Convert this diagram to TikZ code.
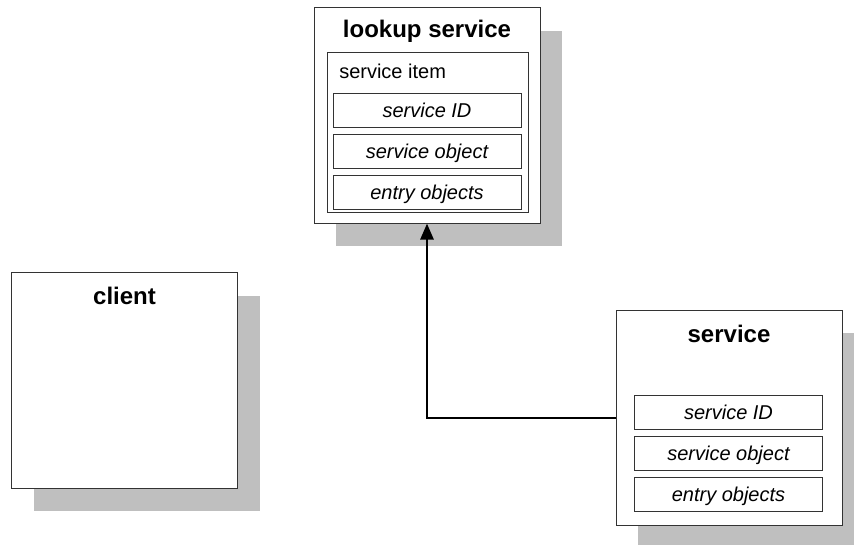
\documentclass[tikz,border=0pt]{standalone}
\usepackage{fontspec}
\setmainfont{Liberation Sans}
\usetikzlibrary{positioning, shadows, arrows.meta}

\begin{document}
\begin{tikzpicture}[
    x=0.75pt, y=-0.75pt,
    box/.style={draw=black!80, fill=white, line width=0.75pt,
        minimum width=169.5pt, minimum height=161.5pt,
        drop shadow={fill=black!25, opacity=1, shadow xshift=16.5pt, shadow yshift=-17.25pt}},
    item/.style={draw=black!80, line width=0.75pt, minimum width=150.75pt, minimum height=120pt},
    field/.style={draw=black!80, line width=0.75pt, inner sep=0pt,
        minimum width=141pt, minimum height=25.5pt, text height=12pt, text depth=2pt,
        font=\fontsize{15}{18}\selectfont\itshape},
    title/.style={anchor=base, font=\fontsize{18}{22}\selectfont\bfseries},
    >={Triangle[length=12pt, width=10pt]},
]
    \useasboundingbox (0,0) rectangle (854,545);

    % lookup service
    \node[box] (lookup) at (427,115.5) {};
    \node[title] (lookuptitle) at (427,38) {lookup service};
    \node[item] (item) at (427.5,133) {};
    \node[anchor=base west, inner sep=0pt, font=\fontsize{15}{18}\selectfont] (itemtitle) at (339,79) {service item};
    \node[field] (lsid)  at (427,110.5) {service ID};
    \node[field, below=4.5pt of lsid]  (lsobj)   {service object};
    \node[field, below=4.5pt of lsobj] (lsentry) {entry objects};

    % client
    \node[box] (client) at (124.5,380.5) {};
    \node[title] (clienttitle) at (124.5,305) {client};

    % service
    \node[box] (service) at (729,418) {};
    \node[title] (servicetitle) at (729,343) {service};
    \node[field] (svid)  at (728.5,412.5) {service ID};
    \node[field, below=4.5pt of svid]  (svobj)   {service object};
    \node[field, below=4.5pt of svobj] (sventry) {entry objects};

    \draw[->, line width=1.5pt] (service.west) -| (lookup.south);

\end{tikzpicture}
\end{document}
